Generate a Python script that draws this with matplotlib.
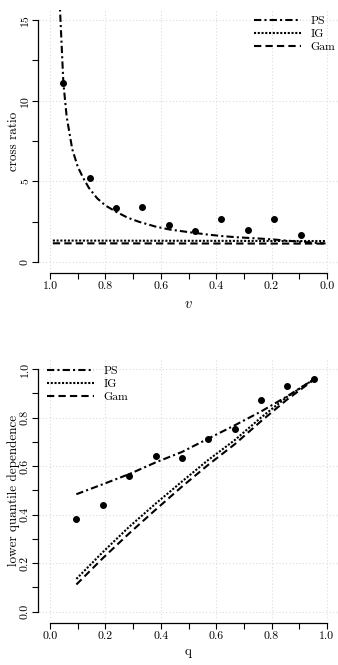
import matplotlib
matplotlib.use("Agg")
import matplotlib.pyplot as plt

plt.rcParams['font.family'] = ['cmr10', 'DejaVu Serif']
plt.rcParams['mathtext.fontset'] = 'cm'
plt.rcParams['axes.formatter.use_mathtext'] = True

# ---- top panel: cross ratio vs v
v_pts = [0.952, 0.857, 0.762, 0.667, 0.571, 0.476, 0.381, 0.286, 0.190, 0.095]
cr_pts = [11.08, 5.19, 3.37, 3.43, 2.31, 1.90, 2.67, 1.97, 2.65, 1.65]

v_ps = [0.970, 0.964, 0.952, 0.940, 0.920, 0.900, 0.880, 0.860, 0.830, 0.800,
        0.760, 0.720, 0.680, 0.620, 0.570, 0.520, 0.476, 0.430, 0.380, 0.330,
        0.289, 0.240, 0.194, 0.150, 0.100, 0.050, 0.005]
cr_ps = [18.0, 15.6, 11.1, 9.0, 7.0, 5.9, 5.2, 4.6, 3.95, 3.5,
         3.1, 2.75, 2.5, 2.2, 2.02, 1.9, 1.8, 1.7, 1.61, 1.54,
         1.5, 1.45, 1.4, 1.33, 1.26, 1.2, 1.15]
v_line = [0.99, 0.005]
cr_ig = [1.33, 1.30]
cr_gam = [1.16, 1.14]

# ---- bottom panel: lower quantile dependence vs q
q_pts = [0.095, 0.190, 0.286, 0.381, 0.476, 0.571, 0.667, 0.762, 0.857, 0.952]
lq_pts = [0.382, 0.440, 0.559, 0.643, 0.635, 0.712, 0.753, 0.871, 0.929, 0.958]
lq_ps = [0.484, 0.525, 0.567, 0.615, 0.658, 0.713, 0.768, 0.825, 0.888, 0.957]
lq_ig = [0.135, 0.245, 0.350, 0.445, 0.536, 0.625, 0.707, 0.800, 0.886, 0.957]
lq_gam = [0.112, 0.220, 0.323, 0.420, 0.515, 0.605, 0.690, 0.785, 0.875, 0.955]

labels = ['PS', 'IG', 'Gam']
styles = [dict(dashes=(3.5, 1.5, 1, 1.5)), dict(dashes=(1, 0.8)), dict(dashes=(3.5, 2))]

W, H = 338, 665
fig = plt.figure(figsize=(W / 100, H / 100), dpi=100)


def px_axes(x0, x1, y0, y1):
    return fig.add_axes([x0 / W, 1 - y1 / H, (x1 - x0) / W, (y1 - y0) / H])


def r_style(ax, xb, yb):
    for s in ['top', 'right']:
        ax.spines[s].set_visible(False)
    ax.spines['left'].set_bounds(*yb)
    ax.spines['bottom'].set_bounds(*xb)
    for s in ['left', 'bottom']:
        ax.spines[s].set_linewidth(0.9)
        ax.spines[s].set_position(('outward', 1))
    ax.tick_params(which='both', direction='out', length=4, width=0.8,
                   labelsize=8.5, pad=2)
    ax.tick_params(axis='y', labelrotation=90, pad=1.5)
    for t in ax.get_yticklabels():
        t.set_va('center')
    ax.grid(True, color='#dcdcdc', linestyle=(0, (1, 2)), linewidth=0.8)
    ax.set_axisbelow(True)


lw = 1.5
leg_kw = dict(bbox_transform=fig.transFigure, frameon=False, fontsize=8.5,
              handlelength=4.0, handletextpad=0.8, labelspacing=0.22,
              borderpad=0, borderaxespad=0)

# top
ax1 = px_axes(39, 338, 10.3, 271.7)
ax1.set_xlim(1.04, -0.04)
ax1.set_ylim(-0.6, 15.6)
ax1.plot(v_ps, cr_ps, color='black', lw=lw, label=labels[0], **styles[0])
ax1.plot(v_line, cr_ig, color='black', lw=lw, label=labels[1], **styles[1])
ax1.plot(v_line, cr_gam, color='black', lw=lw, label=labels[2], **styles[2])
ax1.scatter(v_pts, cr_pts, s=16, color='black', zorder=5)
ax1.set_xticks([1.0, 0.8, 0.6, 0.4, 0.2, 0.0])
ax1.set_xticklabels(['1.0', '0.8', '0.6', '0.4', '0.2', '0.0'])
ax1.set_xticks([0.9, 0.7, 0.5, 0.3, 0.1], minor=True)
ax1.set_yticks([0, 5, 10, 15])
ax1.set_yticklabels(['0', '5', '10', '15'])
ax1.set_yticks([2.5, 7.5, 12.5], minor=True)
r_style(ax1, (1.0, 0.0), (0, 15))
ax1.set_xlabel('$v$', fontsize=10.5)
ax1.set_ylabel('cross ratio', fontsize=9.5)
ax1.xaxis.set_label_coords(188 / W, 1 - 304 / H, transform=fig.transFigure)
ax1.xaxis.label.set_va('center')
ax1.yaxis.set_label_coords(14 / W, 1 - 141 / H, transform=fig.transFigure)
ax1.yaxis.label.set_va('center')
ax1.legend(loc='upper left', bbox_to_anchor=(254 / W, 1 - 16 / H), **leg_kw)

# bottom
ax2 = px_axes(39, 338, 359.3, 621.4)
ax2.set_xlim(-0.04, 1.04)
ax2.set_ylim(-0.04, 1.04)
ax2.plot(q_pts, lq_ps, color='black', lw=lw, label=labels[0], **styles[0])
ax2.plot(q_pts, lq_ig, color='black', lw=lw, label=labels[1], **styles[1])
ax2.plot(q_pts, lq_gam, color='black', lw=lw, label=labels[2], **styles[2])
ax2.scatter(q_pts, lq_pts, s=16, color='black', zorder=5)
ticks = [0.0, 0.2, 0.4, 0.6, 0.8, 1.0]
ax2.set_xticks(ticks)
ax2.set_xticklabels(['%.1f' % t for t in ticks])
ax2.set_xticks([0.1, 0.3, 0.5, 0.7, 0.9], minor=True)
ax2.set_yticks(ticks)
ax2.set_yticklabels(['%.1f' % t for t in ticks])
ax2.set_yticks([0.1, 0.3, 0.5, 0.7, 0.9], minor=True)
r_style(ax2, (0.0, 1.0), (0.0, 1.0))
ax2.set_xlabel('q', fontsize=9.5)
ax2.set_ylabel('lower quantile dependence', fontsize=9.5)
ax2.xaxis.set_label_coords(188 / W, 1 - 652 / H, transform=fig.transFigure)
ax2.xaxis.label.set_va('center')
ax2.yaxis.set_label_coords(14 / W, 1 - 490 / H, transform=fig.transFigure)
ax2.yaxis.label.set_va('center')
ax2.legend(loc='upper left', bbox_to_anchor=(47 / W, 1 - 366 / H), **leg_kw)

fig.savefig('out.png', dpi=100)
